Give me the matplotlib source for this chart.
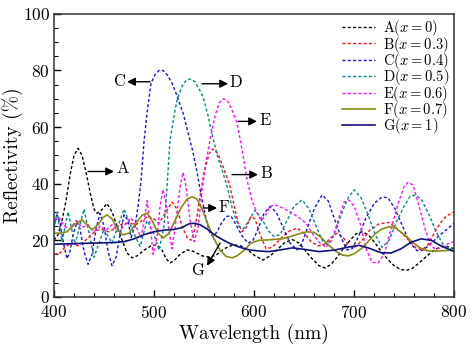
import numpy as np
import matplotlib
matplotlib.use('Agg')
import matplotlib.pyplot as plt

plt.rcParams['font.family'] = 'cmr10'
plt.rcParams['mathtext.fontset'] = 'cm'
plt.rcParams['axes.formatter.use_mathtext'] = True

# ---- data (wavelength nm, reflectivity %) ----
wl_A = [400, 404, 408, 412, 416, 420, 424, 428, 432, 436, 440, 443, 447, 453, 458, 463, 468, 473, 478, 483,
        490, 497, 503, 508, 512, 516, 520, 526, 533, 540, 548, 556, 563, 570, 579, 587, 594, 601, 609, 616,
        623, 630, 638, 645, 652, 658, 665, 671, 677, 683, 689, 696, 702, 708, 714, 720, 726, 733, 740, 746,
        752, 758, 765, 773, 780, 787, 793, 800]
R_A = [20, 22, 27, 34, 43, 50, 52.5, 50, 44, 37, 31, 29.5, 30.5, 33, 30, 25, 20, 15.5, 13.8, 14.5,
       16.5, 18, 18.4, 16.5, 13.5, 12, 12.8, 15, 16.6, 16, 14.5, 14, 15, 17, 18.4, 18, 16.5, 14.5, 13, 14.5,
       16.6, 19, 20.3, 19, 16, 13.5, 11, 10.2, 11.5, 14, 17, 20, 22.3, 23, 22, 19.5, 16.6, 13.5, 11, 9.8,
       9.3, 10, 12, 14.5, 16.5, 17.8, 17.8, 17]

wl_B = [400, 406, 412, 418, 424, 430, 436, 442, 448, 455, 462, 469, 476, 482, 488, 494, 500, 505, 512, 518,
        523, 528, 533, 537, 540, 543, 546, 550, 555, 559, 564, 569, 573, 576, 579, 581, 584, 588, 592, 597,
        601, 606, 612, 618, 625, 634, 643, 650, 657, 664, 670, 677, 683, 689, 695, 700, 708, 716, 725, 735,
        745, 756, 762, 768, 774, 780, 786, 792, 800]
R_B = [15, 15.5, 18, 19, 18, 19.5, 21.5, 23.5, 23.8, 23, 24.5, 26, 26, 25.5, 27, 28.5, 27.5, 26, 30, 33.5,
       31, 25, 21, 20, 23, 28.5, 35.5, 44, 50.5, 52.3, 50.5, 46, 42, 39, 34, 30.7, 26, 23, 24.5, 28.5,
       27.5, 22, 17, 17.5, 20, 23, 24.3, 22.5, 19.5, 18, 18.5, 21, 22.5, 21, 18, 17.3, 20, 23.7, 25.8, 26.3,
       23.5, 19.5, 17.2, 16.6, 18.5, 22.5, 26, 28.5, 30]

wl_C = [400, 403, 406, 410, 413, 416, 419, 423, 426, 430, 434, 438, 442, 446, 450, 454, 458, 462, 466, 470,
        474, 477, 481, 484, 487, 490, 493, 497, 501, 505, 509, 513, 518, 523, 529, 534, 539, 543, 546, 550,
        553, 556, 559, 563, 568, 573, 577, 582, 588, 594, 599, 604, 610, 616, 622, 629, 636, 643, 648, 654,
        660, 668, 674, 680, 687, 693, 698, 704, 712, 720, 728, 734, 741, 749, 756, 763, 769, 776, 783, 790,
        796, 800]
R_C = [25, 29, 26, 18, 13.5, 16, 22, 26.5, 24, 16, 11.5, 15, 24, 29.5, 25, 16, 11, 14, 22, 29,
       27, 21, 25, 32, 41, 55, 65, 75.5, 78.5, 80, 80, 78.5, 75.5, 71, 65, 58, 51, 44, 38, 31,
       26, 22.5, 21.3, 23, 26.5, 28.5, 28.5, 25.5, 21.5, 19, 20, 24, 29.5, 31.9, 30, 24.5, 19, 16.6, 19, 25,
       31, 36, 34, 28, 21, 16.6, 17, 21, 28, 33, 35.3, 35, 31, 24.5, 19, 16.3, 16.5, 18.5, 21, 23,
       24.8, 26]

wl_D = [400, 403, 408, 414, 421, 430, 440, 450, 458, 470, 478, 486, 493, 500, 505, 510, 513, 516, 520, 523,
        528, 532, 536, 541, 545, 549, 554, 559, 564, 569, 574, 578, 581, 585, 589, 594, 601, 607, 614, 620,
        626, 633, 640, 648, 655, 662, 668, 673, 680, 687, 694, 700, 707, 714, 721, 728, 735, 743, 750, 756,
        762, 768, 775, 782, 789, 796, 800]
R_D = [24, 30, 19.5, 30, 18.5, 31, 14, 24, 19, 31, 24, 17.8, 27, 22, 16.5, 25, 39, 55.5, 64, 69.6,
       74.5, 76.5, 77, 76, 73.5, 70.7, 64, 56, 49, 43.8, 37.8, 31.5, 28.3, 25, 24, 26.5, 30.6, 28, 23.5, 21.3,
       22, 27, 32, 34.3, 31, 25, 20, 18.4, 22, 29, 35, 37.8, 35, 29, 22, 17.5, 20, 27, 32, 35.5,
       36, 34, 29, 23, 18.5, 16.8, 17.5]

wl_E = [400, 405, 410, 416, 422, 428, 434, 440, 446, 452, 458, 464, 470, 477, 483, 487, 490, 493, 496, 499,
        503, 506, 509, 512, 515, 518, 522, 526, 529, 532, 536, 540, 544, 548, 552, 556, 561, 565, 569, 573,
        578, 583, 588, 593, 598, 603, 607, 611, 616, 621, 628, 636, 645, 652, 659, 666, 672, 678, 684, 690,
        695, 700, 706, 712, 718, 724, 730, 737, 744, 750, 754, 759, 765, 771, 777, 782, 788, 794, 800]
R_E = [27, 28, 25, 24, 27, 24.5, 25.5, 23, 25, 23.5, 25.5, 23, 25, 28, 24, 21, 27, 34, 26, 15,
       21, 32, 38, 33, 23, 17, 27, 39, 44, 39, 27, 19.5, 24, 38, 48, 55.5, 64, 68.5, 70, 69.5,
       66, 61.5, 52, 41.3, 34, 29.6, 27, 28.5, 32, 32.5, 31.5, 30, 28, 26, 22, 19, 17.5, 20, 27, 33.5,
       34.2, 32, 26, 17, 12.2, 12, 15, 24, 33, 39, 40.5, 39.5, 32, 24, 18, 16.8, 17.5, 18.8, 19.5]

wl_F = [400, 406, 413, 420, 428, 433, 438, 444, 449, 453, 458, 464, 469, 475, 482, 488, 493, 498, 504, 509,
        515, 521, 527, 533, 538, 543, 548, 554, 560, 566, 572, 578, 583, 590, 597, 605, 613, 620, 628, 636,
        645, 653, 660, 667, 674, 681, 688, 694, 700, 707, 714, 721, 728, 735, 742, 750, 757, 764, 770, 776,
        785, 793, 800]
R_F = [22.5, 22.5, 23, 25.5, 27.2, 25.5, 23.7, 25.5, 28, 29, 27.5, 23.5, 21.9, 22.5, 26, 28.8, 29.6, 27, 22.5, 20.8,
       22.5, 27, 31.5, 34.5, 35.4, 34.5, 31, 25.5, 20.5, 16.5, 14.3, 13.8, 14.5, 16.5, 19, 20, 20.1, 20.3, 20.5, 21.3,
       22.3, 23, 22.8, 21, 18.5, 16.3, 14.8, 14.5, 15.2, 17, 19.5, 22.3, 24, 24.8, 24.2, 22, 19.8, 17.8, 16.6, 16.2,
       16.2, 16.4, 16.5]

wl_G = [400, 420, 440, 460, 470, 480, 490, 500, 510, 520, 528, 535, 540, 546, 553, 560, 567, 575, 585, 595,
        605, 615, 625, 638, 650, 665, 680, 693, 705, 715, 727, 737, 747, 757, 767, 777, 787, 800]
R_G = [18.6, 18.8, 19, 19.2, 19.5, 20.5, 22, 23, 23.6, 23.8, 24.5, 25.8, 26, 25.5, 24, 22, 20.5, 19, 17.6, 16.6,
       16.2, 16, 16.5, 17.3, 16.8, 16, 16.5, 17.5, 18.2, 17.2, 15.6, 15.5, 17, 19.3, 20.5, 20, 18, 16]

labels = [r'A$(x=0)$', r'B$(x=0.3)$', r'C$(x=0.4)$', r'D$(x=0.5)$',
          r'E$(x=0.6)$', r'F$(x=0.7)$', r'G$(x=1)$']

fig = plt.figure(figsize=(4.74, 3.46), dpi=100)
ax = fig.add_axes([0.114, 0.142, 0.844, 0.818])

dash = (0, (2.2, 1.6))
ax.plot(wl_A, R_A, color='black', lw=1, linestyle=dash, label=labels[0])
ax.plot(wl_B, R_B, color='#ff1010', lw=1, linestyle=dash, label=labels[1])
ax.plot(wl_C, R_C, color='#1515e0', lw=1, linestyle=dash, label=labels[2])
ax.plot(wl_D, R_D, color='#008b8b', lw=1, linestyle=dash, label=labels[3])
ax.plot(wl_E, R_E, color='#ff10ff', lw=1, linestyle=dash, label=labels[4])
ax.plot(wl_F, R_F, color='#8a8a10', lw=1.2, label=labels[5])
ax.plot(wl_G, R_G, color='#10107a', lw=1.2, label=labels[6])

# arrows pointing at the curve labels
arr = dict(arrowstyle='-|>', color='black', lw=1, mutation_scale=12, shrinkA=0, shrinkB=0)
fs_lab = 12
ax.annotate('', xy=(460, 44.3), xytext=(434, 44.3), arrowprops=arr)
ax.text(462, 45.5, 'A', fontsize=fs_lab, va='center')
ax.annotate('', xy=(473, 76), xytext=(496, 76), arrowprops=arr)
ax.text(471, 76.3, 'C', fontsize=fs_lab, va='center', ha='right')
ax.annotate('', xy=(574, 75.3), xytext=(548, 75.3), arrowprops=arr)
ax.text(575, 75.8, 'D', fontsize=fs_lab, va='center')
ax.annotate('', xy=(603, 62), xytext=(584, 62), arrowprops=arr)
ax.text(605, 62.5, 'E', fontsize=fs_lab, va='center')
ax.annotate('', xy=(604, 43.2), xytext=(578, 43.2), arrowprops=arr)
ax.text(606, 43.8, 'B', fontsize=fs_lab, va='center')
ax.annotate('', xy=(563, 31.4), xytext=(549, 31.4), arrowprops=arr)
ax.text(564, 31.8, 'F', fontsize=fs_lab, va='center')
ax.annotate('', xy=(553, 11), xytext=(566, 19), arrowprops=arr)
ax.text(544, 9.3, 'G', fontsize=fs_lab, va='center', ha='center')

ax.set_xlim(400, 800)
ax.set_ylim(0, 100)
ax.set_xticks([400, 500, 600, 700, 800])
ax.set_yticks([0, 20, 40, 60, 80, 100])
ax.set_xticks(np.arange(400, 801, 20), minor=True)
ax.set_yticks(np.arange(0, 101, 5), minor=True)
ax.tick_params(which='both', direction='in', top=False, right=False, labelsize=12.5)
ax.tick_params(axis='x', which='major', pad=5)
ax.tick_params(axis='y', which='major', pad=3)
ax.tick_params(which='major', length=5, width=1)
ax.tick_params(which='minor', length=3, width=0.8)
for s in ax.spines.values():
    s.set_linewidth(1.1)
    s.set_color('#333333')

ax.set_xlabel('Wavelength (nm)', fontsize=14, labelpad=2)
ax.set_ylabel('Reflectivity (%)', fontsize=14, labelpad=0)

ax.legend(loc='upper right', frameon=False, fontsize=10.5, handlelength=2.2,
          labelspacing=-0.25, borderpad=0.2, borderaxespad=0.1, handletextpad=0.6)

fig.savefig('out.png', dpi=100)
